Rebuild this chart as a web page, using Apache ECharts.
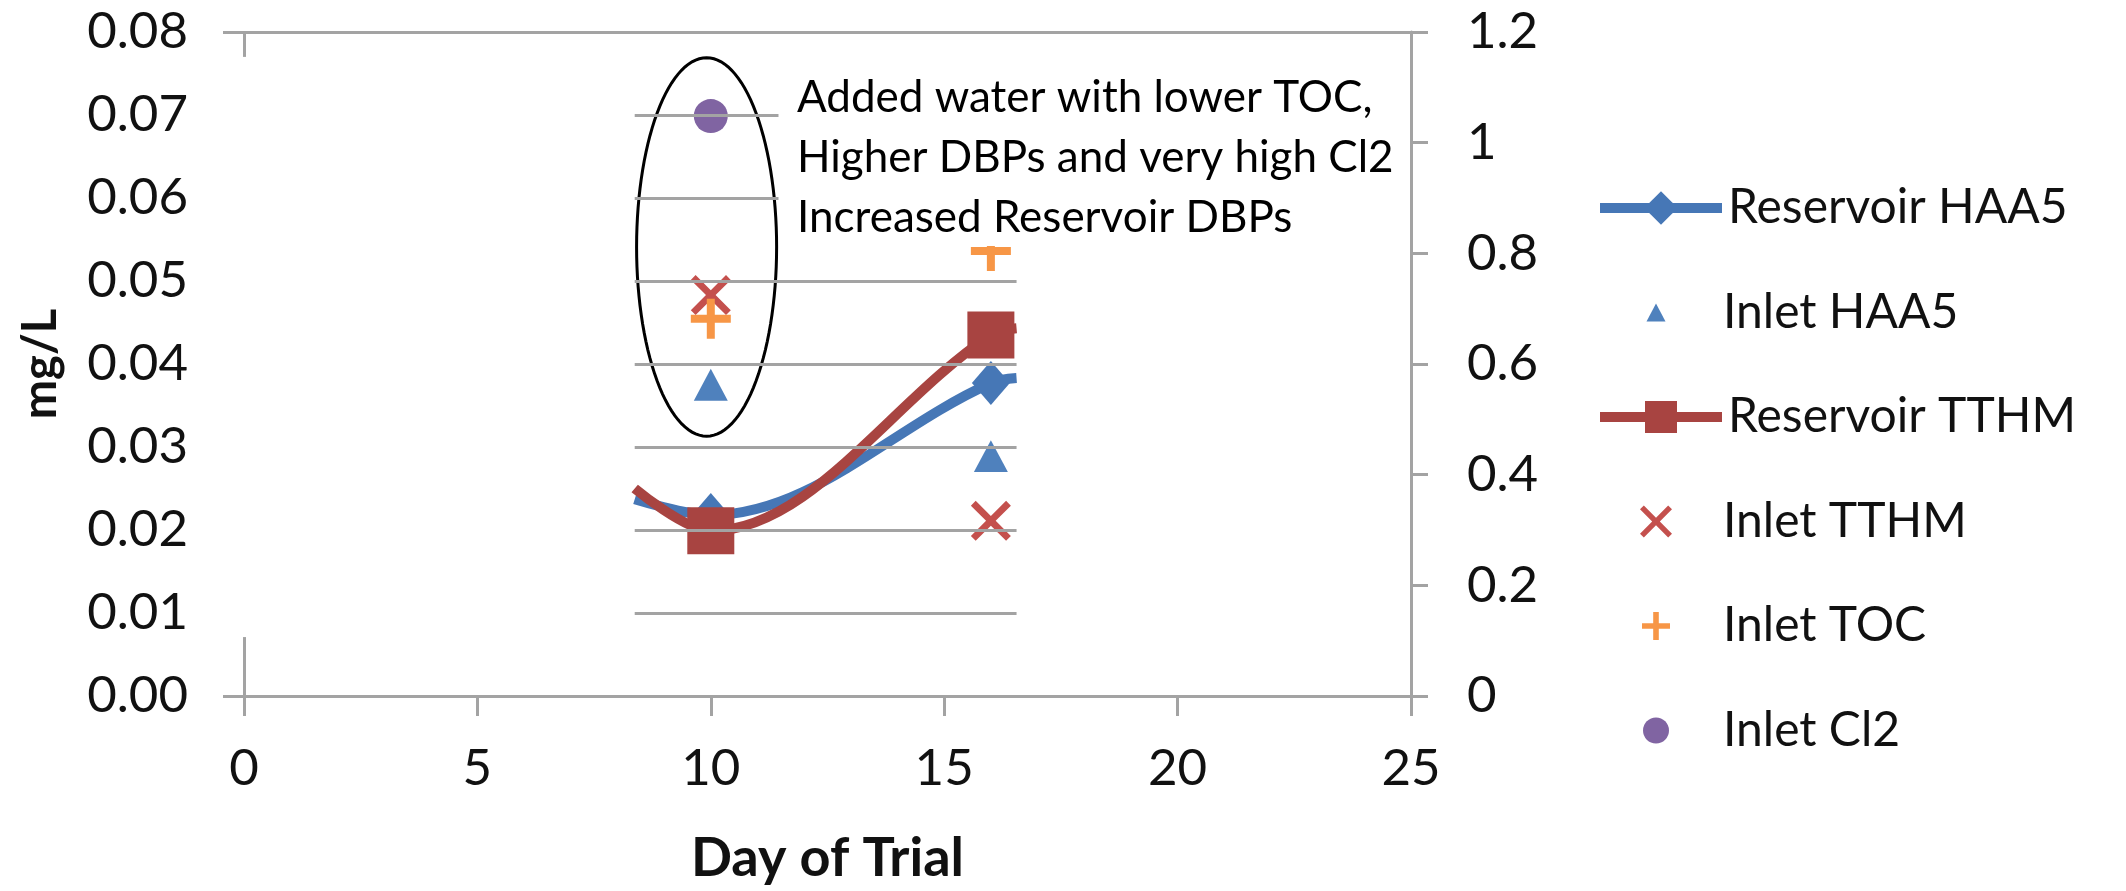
<!DOCTYPE html>
<html>
<head>
<meta charset="utf-8">
<style>
html, body { margin: 0; padding: 0; background: #fff; }
#main { width: 2126px; height: 891px; }
</style>
<script src="https://cdn.jsdelivr.net/npm/echarts@6/dist/echarts.min.js"></script>
</head>
<body>
<div id="main"></div>
<script>
var chart = echarts.init(document.getElementById('main'));

// sampling days
var days = [10, 16];
// left axis (mg/L)
var reservoirHAA5 = [0.0218, 0.0377];
var reservoirTTHM = [0.0199, 0.0435];
var inletHAA5 = [0.0375, 0.0289];
var inletTTHM = [0.0483, 0.0211];
// right axis
var inletTOC = [0.682, 0.804];
var inletCl2 = [1.048];

// only a window of the plot is visible, the curves are cut at its edges
var windowDays = [8.37, 16.55];
var reservoirHAA5Edge = [0.0237, 0.0383];
var reservoirTTHMEdge = [0.0250, 0.0443];
var gridLevels = [0.01, 0.02, 0.03, 0.04, 0.05];
var upperLevels = [0.06, 0.07];
var upperLevelEnd = 11.45;

var noteLines = ['Added water with lower TOC,', 'Higher DBPs and very high Cl2', 'Increased Reservoir DBPs'];
var noteEllipse = [9.91, 0.0541, 1.5, 0.0228]; // centre day, centre mg/L, half width (days), half height (mg/L)

var legendNames = ['Reservoir HAA5', 'Inlet HAA5', 'Reservoir TTHM', 'Inlet TTHM', 'Inlet TOC', 'Inlet Cl2'];
var legendIconSize = [42, 19, 40, 32, 28, 26];
var legendIsLine = [true, false, true, false, false, false];

var crossPath = 'path://M0,1.2L1.2,0L5,3.8L8.8,0L10,1.2L6.2,5L10,8.8L8.8,10L5,6.2L1.2,10L0,8.8L3.8,5Z';
var plusPath = 'path://M4,0H6V4H10V6H6V10H4V6H0V4H4Z';
var triPath = 'path://M5,0L10,9.4L0,9.4Z';

var gray = '#a3a3a3';
var font = 'Lato';

function curve(vals, edges) {
    return [
        { value: [windowDays[0], edges[0]], symbol: 'none' },
        [days[0], vals[0]],
        [days[1], vals[1]],
        { value: [windowDays[1], edges[1]], symbol: 'none' }
    ];
}
function points(vals) {
    return vals.map(function (v, i) { return [days[i], v]; });
}

// gridline pieces and the visible bits of the left axis
var segs = [];
gridLevels.forEach(function (v) {
    segs.push([{ coord: [windowDays[0], v] }, { coord: [windowDays[1], v] }]);
});
upperLevels.forEach(function (v) {
    segs.push([{ coord: [windowDays[0], v] }, { coord: [upperLevelEnd, v] }]);
});
segs.push([{ coord: [0, 0.077] }, { coord: [0, 0.08] }]);
segs.push([{ coord: [0, 0] }, { coord: [0, 0.0071] }]);
segs.push({ yAxis: 0.08 });

// one legend per entry so every icon gets its own size
var iconCentre = 1656, textLeft = 1723;
var legends = legendNames.map(function (name, i) {
    var h = legendIconSize[i];
    var w = legendIsLine[i] ? 122 : h;
    var left = iconCentre - w / 2;
    var pad = textLeft - (left + w + 5);
    return {
        data: [name],
        left: left,
        top: 208 + 104.5 * i - 24,
        padding: 0,
        itemWidth: w,
        itemHeight: h,
        selectedMode: false,
        lineStyle: { width: 10 },
        textStyle: { fontFamily: font, fontSize: 48, lineHeight: 48, color: '#111', padding: [0, 0, 0, pad] }
    };
});

var option = {
    animation: false,
    backgroundColor: '#fff',
    grid: { left: 244, right: 715, top: 32, bottom: 192 },
    legend: legends,
    xAxis: {
        type: 'value',
        min: 0, max: 25, interval: 5,
        name: 'Day of Trial',
        nameLocation: 'middle',
        nameGap: 136,
        nameTextStyle: { fontFamily: font, fontSize: 54, fontWeight: 'bold', color: '#111' },
        axisLine: { show: true, lineStyle: { color: gray, width: 3 } },
        axisTick: { show: true, inside: false, length: 20, lineStyle: { color: gray, width: 3 } },
        axisLabel: { fontFamily: font, fontSize: 51, color: '#111', margin: 47 },
        splitLine: { show: false }
    },
    yAxis: [{
        type: 'value',
        min: 0, max: 0.08, interval: 0.01,
        name: 'mg/L',
        nameLocation: 'middle',
        nameGap: 180,
        nameTextStyle: { fontFamily: font, fontSize: 47, fontWeight: 'bold', color: '#111' },
        axisLine: { show: false },
        axisTick: { show: true, inside: false, length: 21, customValues: [0, 0.08], lineStyle: { color: gray, width: 3 } },
        axisLabel: {
            fontFamily: font, fontSize: 51, color: '#111', margin: 56,
            formatter: function (v) { return v.toFixed(2); }
        },
        splitLine: { show: false }
    }, {
        type: 'value',
        position: 'right',
        min: 0, max: 1.2, interval: 0.2,
        axisLine: { show: true, lineStyle: { color: gray, width: 3 } },
        axisTick: { show: true, inside: false, length: 17, lineStyle: { color: gray, width: 3 } },
        axisLabel: { fontFamily: font, fontSize: 51, color: '#111', margin: 56 },
        splitLine: { show: false }
    }],
    graphic: [{
        type: 'rect',
        left: 782, top: 42,
        shape: { width: 615, height: 204 },
        style: { fill: '#fff' },
        z: 100
    }, {
        type: 'text',
        left: 797, top: 68,
        style: { text: noteLines.join('\n'), fontFamily: font, fontSize: 44, lineHeight: 60, fill: '#000' },
        z: 101
    }],
    series: [{
        name: 'grid',
        type: 'line',
        data: [],
        silent: true,
        markLine: {
            silent: true,
            symbol: 'none',
            label: { show: false },
            lineStyle: { color: gray, width: 3, type: 'solid' },
            data: segs
        }
    }, {
        name: 'Reservoir HAA5',
        type: 'line',
        smooth: 0.35,
        data: curve(reservoirHAA5, reservoirHAA5Edge),
        symbol: 'diamond',
        symbolSize: [38, 44],
        showAllSymbol: true,
        lineStyle: { color: '#4677b6', width: 10 },
        itemStyle: { color: '#4677b6' }
    }, {
        name: 'Inlet HAA5',
        type: 'scatter',
        data: points(inletHAA5),
        symbol: triPath,
        symbolSize: 34,
        symbolKeepAspect: true,
        itemStyle: { color: '#4f81bd', opacity: 1 }
    }, {
        name: 'Reservoir TTHM',
        type: 'line',
        smooth: 0.35,
        data: curve(reservoirTTHM, reservoirTTHMEdge),
        symbol: 'rect',
        symbolSize: 47,
        showAllSymbol: true,
        lineStyle: { color: '#a84441', width: 10 },
        itemStyle: { color: '#a84441' }
    }, {
        name: 'Inlet TTHM',
        type: 'scatter',
        data: points(inletTTHM),
        symbol: crossPath,
        symbolSize: 40,
        symbolKeepAspect: true,
        itemStyle: { color: '#c4504d', opacity: 1 }
    }, {
        name: 'Inlet TOC',
        type: 'scatter',
        yAxisIndex: 1,
        data: points(inletTOC),
        symbol: plusPath,
        symbolSize: 40,
        symbolKeepAspect: true,
        itemStyle: { color: '#f79646', opacity: 1 }
    }, {
        name: 'Inlet Cl2',
        type: 'scatter',
        yAxisIndex: 1,
        data: points(inletCl2),
        symbol: 'circle',
        symbolSize: 34,
        itemStyle: { color: '#8064a2', opacity: 1 }
    }, {
        name: 'note',
        type: 'custom',
        silent: true,
        clip: false,
        data: [[noteEllipse[0], noteEllipse[1]]],
        renderItem: function (params, api) {
            var c = api.coord([api.value(0), api.value(1)]);
            var s = api.size([noteEllipse[2], noteEllipse[3]]);
            var pts = [];
            for (var k = 0; k < 120; k++) {
                var a = k / 120 * Math.PI * 2;
                pts.push([c[0] + s[0] * Math.cos(a), c[1] + s[1] * Math.sin(a)]);
            }
            return {
                type: 'polygon',
                shape: { points: pts },
                style: { fill: 'none', stroke: '#000', lineWidth: 3 }
            };
        }
    }]
};

chart.setOption(option);
</script>
</body>
</html>
